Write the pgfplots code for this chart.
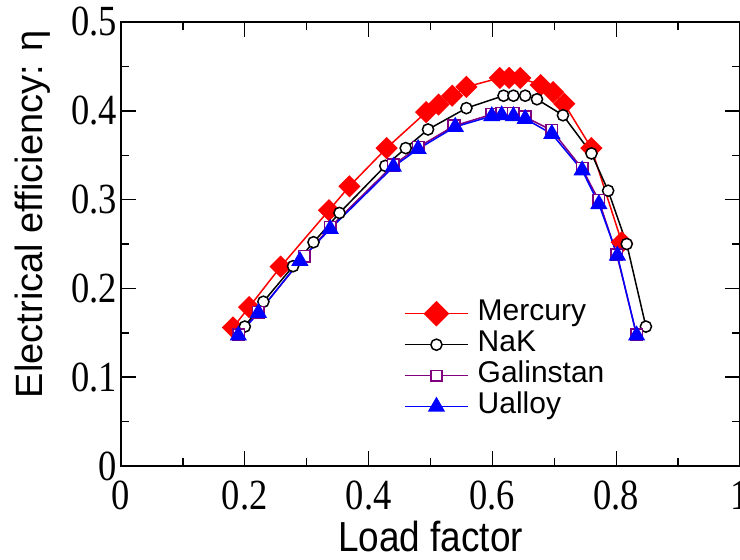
\documentclass[border=0pt]{standalone}
\usepackage{fontspec}
\setmainfont{Liberation Sans}
\newfontfamily\tickfont{Liberation Serif}[FakeStretch=0.85]
\newfontfamily\labfont{Liberation Sans}[FakeStretch=0.88]
\usepackage{pgfplots}
\pgfplotsset{compat=1.18}
\definecolor{merc}{RGB}{255,0,0}
\definecolor{gal}{RGB}{128,0,128}
\definecolor{ual}{RGB}{0,0,255}
\begin{document}
\begin{tikzpicture}[x=1pt,y=1pt]
\begin{axis}[
  at={(121pt,94pt)}, anchor=south west,
  scale only axis, width=619pt, height=444pt,
  xmin=0, xmax=1, ymin=0, ymax=0.5,
  xtick={0,0.2,0.4,0.6,0.8,1}, xticklabels={0,0.2,0.4,0.6,0.8,1},
  minor xtick={0.1,0.3,0.5,0.7,0.9},
  ytick={0,0.1,0.2,0.3,0.4,0.5}, yticklabels={0,0.1,0.2,0.3,0.4,0.5},
  minor ytick={0.05,0.15,0.25,0.35,0.45},
  tick align=inside, major tick length=15pt, minor tick length=8pt,
  axis line style={line width=1.6pt},
  every tick/.style={black, line width=1.4pt},
  xticklabel style={font=\tickfont\fontsize{43}{43}\selectfont, anchor=north, inner sep=0pt, yshift=-15pt},
  yticklabel style={font=\tickfont\fontsize{43}{43}\selectfont, anchor=east, inner sep=0pt, xshift=-4pt},
  xlabel={Load factor},
  xlabel style={font=\labfont\fontsize{42}{42}\selectfont, at={(axis description cs:0.5,-0.1925)}, anchor=base},
  ylabel={Electrical efficiency: η},
  ylabel style={font=\fontsize{38}{38}\selectfont, at={(axis description cs:-0.1276,0.5676)}, anchor=base},
  legend style={draw=none, fill=none, at={(axis description cs:0.4572,0.3784)}, anchor=north west,
    font=\fontsize{30}{30}\selectfont, inner sep=0pt, row sep=0pt, column sep=9pt,
    nodes={inner sep=0pt, text height=22pt, text depth=9pt}},
  legend cell align=left,
  legend image code/.code={\draw[mark repeat=2,mark phase=2,#1] plot coordinates {(0pt,0pt) (31.5pt,0pt) (63pt,0pt)};},
]
\addplot[merc, line width=1.5pt, mark=square*, mark size=7.1pt, mark options={rotate=45, solid, fill=merc}, forget plot] coordinates {
(0.181,0.156) (0.207,0.179) (0.258,0.2245) (0.336,0.288) (0.369,0.315) (0.429,0.358) (0.493,0.3985) (0.513,0.407) (0.535,0.417) (0.558,0.427) (0.612,0.437) (0.627,0.437) (0.645,0.437) (0.678,0.429) (0.698,0.421) (0.716,0.408) (0.760,0.358) (0.809,0.252)
};
\addplot[black, line width=1.5pt, mark=*, mark size=5.6pt, mark options={fill=white}, forget plot] coordinates {
(0.200,0.157) (0.230,0.185) (0.278,0.225) (0.311,0.252) (0.353,0.285) (0.427,0.338) (0.460,0.358) (0.496,0.379) (0.558,0.403) (0.618,0.417) (0.634,0.417) (0.653,0.417) (0.672,0.413) (0.714,0.395) (0.760,0.352) (0.787,0.310) (0.817,0.250) (0.848,0.157)
};
\addplot[gal, line width=1.5pt, mark=square*, mark size=5.8pt, mark options={fill=white}, forget plot] coordinates {
(0.190,0.148) (0.222,0.173) (0.296,0.236) (0.338,0.269) (0.440,0.339) (0.480,0.359) (0.538,0.383) (0.599,0.396) (0.615,0.397) (0.634,0.397) (0.653,0.393) (0.696,0.378) (0.745,0.335) (0.772,0.299) (0.801,0.238) (0.833,0.148)
};
\addplot[ual, line width=1.5pt, mark=triangle*, mark size=8.5pt, mark options={fill=ual}, forget plot] coordinates {
(0.1895,0.147) (0.222,0.1725) (0.289,0.231) (0.338,0.267) (0.440,0.337) (0.480,0.357) (0.540,0.382) (0.599,0.394) (0.615,0.395) (0.634,0.394) (0.653,0.391) (0.696,0.374) (0.745,0.333) (0.772,0.295) (0.802,0.237) (0.833,0.147)
};
\addlegendimage{merc, line width=1.5pt, mark=square*, mark size=8.3pt, mark options={rotate=45, fill=merc}}
\addlegendentry{Mercury}
\addlegendimage{black, line width=1.5pt, mark=*, mark size=5.6pt, mark options={fill=white}}
\addlegendentry{NaK}
\addlegendimage{gal, line width=1.5pt, mark=square*, mark size=5.3pt, mark options={fill=white}}
\addlegendentry{Galinstan}
\addlegendimage{ual, line width=1.5pt, mark=triangle*, mark size=8.5pt, mark options={fill=ual}}
\addlegendentry{Ualloy}
\end{axis}
\pgfresetboundingbox
\useasboundingbox (0,0) rectangle (740,560);
\end{tikzpicture}
\end{document}
